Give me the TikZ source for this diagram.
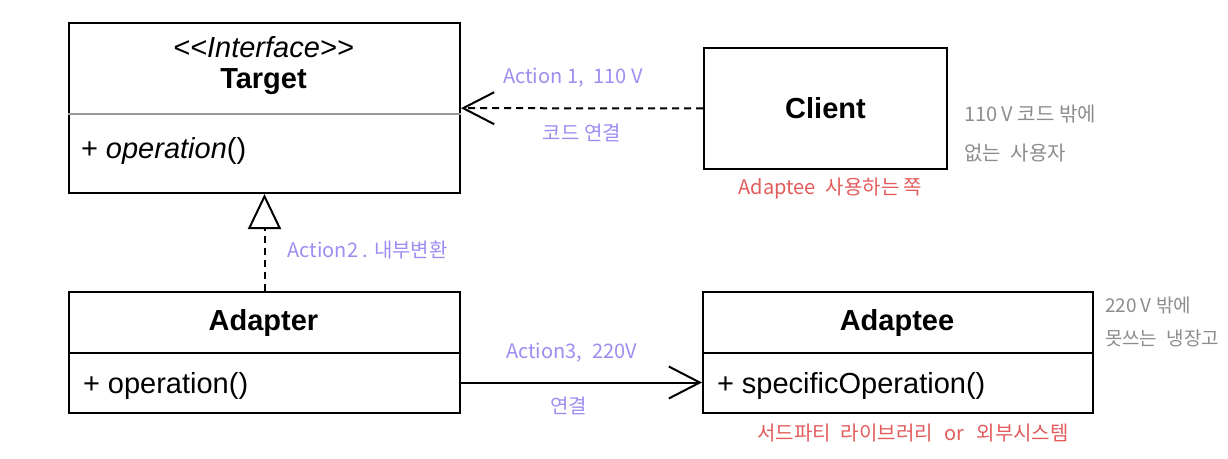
\documentclass[tikz,border=0pt]{standalone}
\usepackage{fontspec}
\setmainfont{Liberation Sans}
\newfontfamily\hangul{Noto Sans CJK KR}
\usepackage{tikz}
\tikzset{>=latex}
\usetikzlibrary{arrows.meta,calc,positioning}
\definecolor{notepurple}{HTML}{9D8DF1}
\definecolor{notered}{HTML}{E35B5B}
\definecolor{notegray}{HTML}{8C8C8C}
\tikzset{
  classbox/.style={draw=black, line width=2pt, inner sep=0pt, anchor=north west},
  umltext/.style={font=\fontsize{29}{34}\selectfont, inner sep=0pt},
  memo/.style={font=\hangul\fontsize{20}{37}\selectfont, inner sep=0pt},
  barb/.style={-{Straight Barb[length=31pt,width=32pt,line width=2pt]}},
}

\begin{document}
\begin{tikzpicture}[x=1pt,y=-1pt,line width=2pt]
            \useasboundingbox (0,0) rectangle (1228,458);

            % class boxes
            \node[classbox, minimum width=391pt, minimum height=170pt] (target) at (68,22) {};
            \draw[line width=1.5pt, black!40] ([yshift=-92pt]target.north west) -- ([yshift=-92pt]target.north east);
            \node[umltext, font=\fontsize{29}{34}\selectfont\itshape] (stereo) at (263.5,47) {<{}<Interface>{}>};
            \node[umltext, font=\fontsize{29}{34}\selectfont\bfseries] (targetname) at (263.5,82) {Target};
            \node[umltext, anchor=west] (targetop) at (80,151) {+ \textit{operation}()};

            \node[classbox, minimum width=243pt, minimum height=121pt] (client) at (703,47) {};
            \node[umltext, font=\fontsize{29}{34}\selectfont\bfseries] (clientname) at (client.center) {Client};

            \node[classbox, minimum width=391pt, minimum height=121pt] (adapter) at (68,291) {};
            \draw ([yshift=-62pt]adapter.north west) -- ([yshift=-62pt]adapter.north east);
            \node[umltext, font=\fontsize{29}{34}\selectfont\bfseries] (adaptername) at (263.5,323) {Adapter};
            \node[umltext, anchor=west] (adapterop) at (82,386) {+ operation()};

            \node[classbox, minimum width=390pt, minimum height=121pt] (adaptee) at (702,291) {};
            \draw ([yshift=-62pt]adaptee.north west) -- ([yshift=-62pt]adaptee.north east);
            \node[umltext, font=\fontsize{29}{34}\selectfont\bfseries] (adapteename) at (897,323) {Adaptee};
            \node[umltext, anchor=west] (adapteeop) at (716,386) {+ specificOperation()};

            % relations
            \draw[barb, dash pattern=on 7pt off 5pt] (client) -- (target)
                node[memo, midway, above=20pt, text=notepurple, xshift=-9pt] {Action 1,\enspace 110 V}
                node[memo, midway, below=15pt, text=notepurple] {코드 연결};
            \draw[dash pattern=on 7pt off 5pt, -{Triangle[open,length=35pt,width=33pt,line width=2pt]}] (adapter) -- (target)
                node[memo, midway, right=22pt, yshift=-7pt, text=notepurple] {Action2 . 내부변환};
            \draw[barb] ([yshift=-30pt]adapter.east) -- ([yshift=-30pt]adaptee.west)
                node[memo, midway, above=19pt, xshift=-10pt, text=notepurple] {Action3,\enspace 220V}
                node[memo, midway, below=13pt, xshift=-13pt, text=notepurple] {연결};

            % notes
            \node[memo, text=notegray, align=left, anchor=north west] (clientnote) at (963,104) {110 V 코드 밖에\\[2pt]없는\enspace 사용자};
            \node[memo, text=notered, below=7pt of client, xshift=5pt] (clientuse) {Adaptee\enspace 사용하는 쪽};
            \node[memo, text=notegray, align=left, anchor=north west, font=\hangul\fontsize{19}{37}\selectfont] (adapteenote) at (1104,296) {220 V 밖에\\[-4pt]못쓰는\enspace 냉장고};
            \node[memo, text=notered, below=9pt of adaptee, xshift=15pt] (adapteeuse) {서드파티\enspace 라이브러리\hspace{12pt}or\hspace{12pt}외부시스템};
        \end{tikzpicture}
\end{document}
